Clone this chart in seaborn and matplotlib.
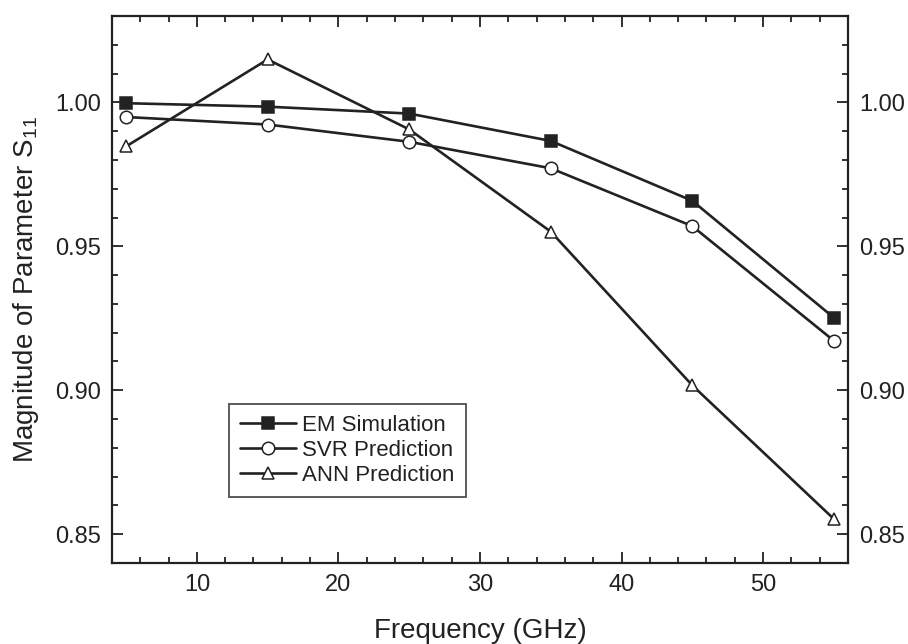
import pandas as pd
import seaborn as sns
import matplotlib.pyplot as plt
from matplotlib.ticker import MultipleLocator

sns.set_style('ticks')
plt.rcParams['font.family'] = ['Liberation Sans', 'DejaVu Sans']
plt.rcParams['mathtext.fontset'] = 'custom'
plt.rcParams['mathtext.rm'] = 'Liberation Sans'

freq = [5, 15, 25, 35, 45, 55]
em_sim = [0.9997, 0.9985, 0.9961, 0.9866, 0.9658, 0.9252]
svr_pred = [0.9949, 0.9923, 0.9863, 0.9771, 0.9570, 0.9172]
ann_pred = [0.9847, 1.0149, 0.9906, 0.9551, 0.9017, 0.8553]
series = ['EM Simulation', 'SVR Prediction', 'ANN Prediction']

df = pd.DataFrame({
    'freq': freq * 3,
    'value': em_sim + svr_pred + ann_pred,
    'series': [s for s in series for _ in freq],
})

fig = plt.figure(figsize=(9.08, 6.44), dpi=100)
ax = fig.add_axes([0.1233, 0.1258, 0.8106, 0.8494])

ink = '#222222'
markers = {'EM Simulation': 's', 'SVR Prediction': 'o', 'ANN Prediction': '^'}
for name in series:
    sub = df[df.series == name]
    face = ink if name == 'EM Simulation' else 'white'
    sns.lineplot(data=sub, x='freq', y='value', ax=ax, color=ink, lw=1.9,
                 marker=markers[name], markersize=9, markerfacecolor=face,
                 markeredgecolor=ink, markeredgewidth=1.1, label=name)

ax.set_xlim(4, 56)
ax.set_ylim(0.84, 1.03)
ax.xaxis.set_major_locator(MultipleLocator(10))
ax.xaxis.set_minor_locator(MultipleLocator(2))
ax.yaxis.set_major_locator(MultipleLocator(0.05))
ax.yaxis.set_minor_locator(MultipleLocator(0.01))
ax.yaxis.set_major_formatter(plt.FormatStrFormatter('%.2f'))

ax.tick_params(which='both', direction='in', top=True, right=True,
               labelright=True, colors=ink, width=1.3, labelsize=17, pad=8)
ax.tick_params(which='major', length=8)
ax.tick_params(which='minor', length=4.5)
for sp in ax.spines.values():
    sp.set_linewidth(1.6)
    sp.set_color(ink)

ax.set_xlabel('Frequency (GHz)', fontsize=20, color=ink, labelpad=16)
ax.set_ylabel('Magnitude of Parameter S$_{11}$', fontsize=20, color=ink, labelpad=10)

leg = ax.legend(loc='lower left', bbox_to_anchor=(0.159, 0.121), borderaxespad=0,
                fontsize=16, frameon=True, fancybox=False, edgecolor=ink,
                handlelength=2.5, handletextpad=0.3, labelspacing=0.18, borderpad=0.5)
leg.get_frame().set_linewidth(1.3)
for t in leg.get_texts():
    t.set_color(ink)

fig.savefig('out.png', dpi=100)
